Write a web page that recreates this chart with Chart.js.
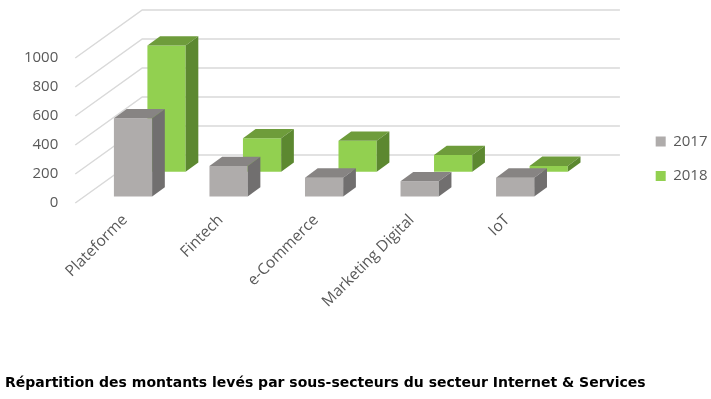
<!DOCTYPE html>
<html lang="fr">
<head>
    <meta charset="UTF-8">
    <title>Répartition des montants levés</title>
    <script src="https://cdn.jsdelivr.net/npm/chart.js"></script>
    <style>
        body {
            margin: 0;
            padding: 0;
            background: #ffffff;
        }
        .chart-container {
            width: 711px;
            height: 399px;
        }
    </style>
</head>
<body>
    <div class="chart-container">
        <canvas id="sectorChart" width="711" height="399"></canvas>
    </div>

    <script>
        // Data
        const categories = ['Plateforme', 'Fintech', 'e-Commerce', 'Marketing Digital', 'IoT'];
        const values2017 = [540, 210, 130, 105, 130];
        const values2018 = [870, 230, 213, 115, 40];
        const yTicks = [0, 200, 400, 600, 800, 1000];

        // 3D look: each row is pushed back into the depth of the box
        const wallDepth = { dx: 65, dy: -48 };
        const barDepth = { dx: 12.7, dy: -9.3 };
        const rowShift = [
            { dx: 8, dy: -6.5 },     // 2017, front row
            { dx: 41.5, dy: -31.3 }  // 2018, back row
        ];
        const faces = [
            { front: '#afacab', top: '#878483', side: '#716f6f' },
            { front: '#92d050', top: '#6e9c3b', side: '#5c8830' }
        ];

        const bars3d = {
            id: 'bars3d',
            beforeDatasetsDraw(chart) {
                const { ctx, chartArea, scales } = chart;
                ctx.save();
                ctx.strokeStyle = '#d9d9d9';
                ctx.lineWidth = 1.5;
                scales.y.ticks.forEach(t => {
                    const y = scales.y.getPixelForValue(t.value);
                    ctx.beginPath();
                    ctx.moveTo(chartArea.left - 2, y);
                    ctx.lineTo(chartArea.left + wallDepth.dx, y + wallDepth.dy);
                    ctx.lineTo(chartArea.right + wallDepth.dx, y + wallDepth.dy);
                    ctx.stroke();
                });
                ctx.restore();
            },
            beforeDatasetDraw(chart, args) {
                const s = rowShift[args.index];
                chart.ctx.save();
                chart.ctx.translate(s.dx, s.dy);
            },
            afterDatasetDraw(chart, args) {
                const ctx = chart.ctx;
                const c = faces[args.index];
                args.meta.data.forEach(bar => {
                    const l = bar.x - bar.width / 2;
                    const r = bar.x + bar.width / 2;
                    const top = bar.y;
                    const bottom = bar.base;
                    // top face
                    ctx.fillStyle = c.top;
                    ctx.beginPath();
                    ctx.moveTo(l, top);
                    ctx.lineTo(l + barDepth.dx, top + barDepth.dy);
                    ctx.lineTo(r + barDepth.dx, top + barDepth.dy);
                    ctx.lineTo(r, top);
                    ctx.closePath();
                    ctx.fill();
                    // side face
                    ctx.fillStyle = c.side;
                    ctx.beginPath();
                    ctx.moveTo(r, top);
                    ctx.lineTo(r + barDepth.dx, top + barDepth.dy);
                    ctx.lineTo(r + barDepth.dx, bottom + barDepth.dy);
                    ctx.lineTo(r, bottom);
                    ctx.closePath();
                    ctx.fill();
                });
                ctx.restore();
            }
        };

        const ctx = document.getElementById('sectorChart').getContext('2d');
        new Chart(ctx, {
            type: 'bar',
            data: {
                labels: categories,
                datasets: [
                    {
                        label: '2017',
                        data: values2017,
                        backgroundColor: faces[0].front,
                        borderWidth: 0,
                        order: 0,
                        clip: false
                    },
                    {
                        label: '2018',
                        data: values2018,
                        backgroundColor: faces[1].front,
                        borderWidth: 0,
                        order: 1,
                        clip: false
                    }
                ]
            },
            options: {
                responsive: false,
                animation: false,
                layout: {
                    padding: { left: 5, top: 58, right: -6.5, bottom: 0 }
                },
                datasets: {
                    bar: {
                        grouped: false,
                        categoryPercentage: 1,
                        barPercentage: 0.4
                    }
                },
                plugins: {
                    legend: {
                        position: 'right',
                        fullSize: false,
                        align: 'end',
                        labels: {
                            boxWidth: 10,
                            boxHeight: 10,
                            padding: 19.5,
                            color: '#595959',
                            font: { family: 'Open Sans', size: 15 }
                        }
                    },
                    title: {
                        display: true,
                        position: 'bottom',
                        align: 'start',
                        text: 'Répartition des montants levés par sous-secteurs du secteur Internet & Services',
                        color: '#000000',
                        font: { family: 'DejaVu Sans', size: 14, weight: 'bold', lineHeight: 1.2 },
                        padding: { top: 0, bottom: 7.1 }
                    },
                    tooltip: { enabled: false }
                },
                scales: {
                    x: {
                        grid: { display: false, drawTicks: false },
                        border: { display: false },
                        ticks: {
                            color: '#595959',
                            font: { family: 'Open Sans', size: 15.5 },
                            minRotation: 45,
                            maxRotation: 45,
                            padding: 8
                        },
                        afterFit(s) {
                            s.height = 172.1;
                            s.paddingLeft = 0;
                            s.paddingRight = 0;
                        }
                    },
                    y: {
                        min: 0,
                        max: 1000,
                        grid: { display: false, drawTicks: false },
                        border: { display: false },
                        ticks: {
                            stepSize: 200,
                            color: '#595959',
                            font: { family: 'Open Sans', size: 15 },
                            padding: 19,
                            callback: (v) => yTicks.includes(v) ? String(v) : ''
                        },
                        afterFit(s) {
                            s.width = 72.25;
                            s.paddingTop = 0;
                            s.paddingBottom = 0;
                        }
                    },
                    yr: {
                        position: 'right',
                        grid: { display: false, drawTicks: false },
                        border: { display: false },
                        ticks: { display: false },
                        afterFit(s) {
                            s.width = 81.25;
                        }
                    }
                }
            },
            plugins: [bars3d]
        });
    </script>
</body>
</html>
